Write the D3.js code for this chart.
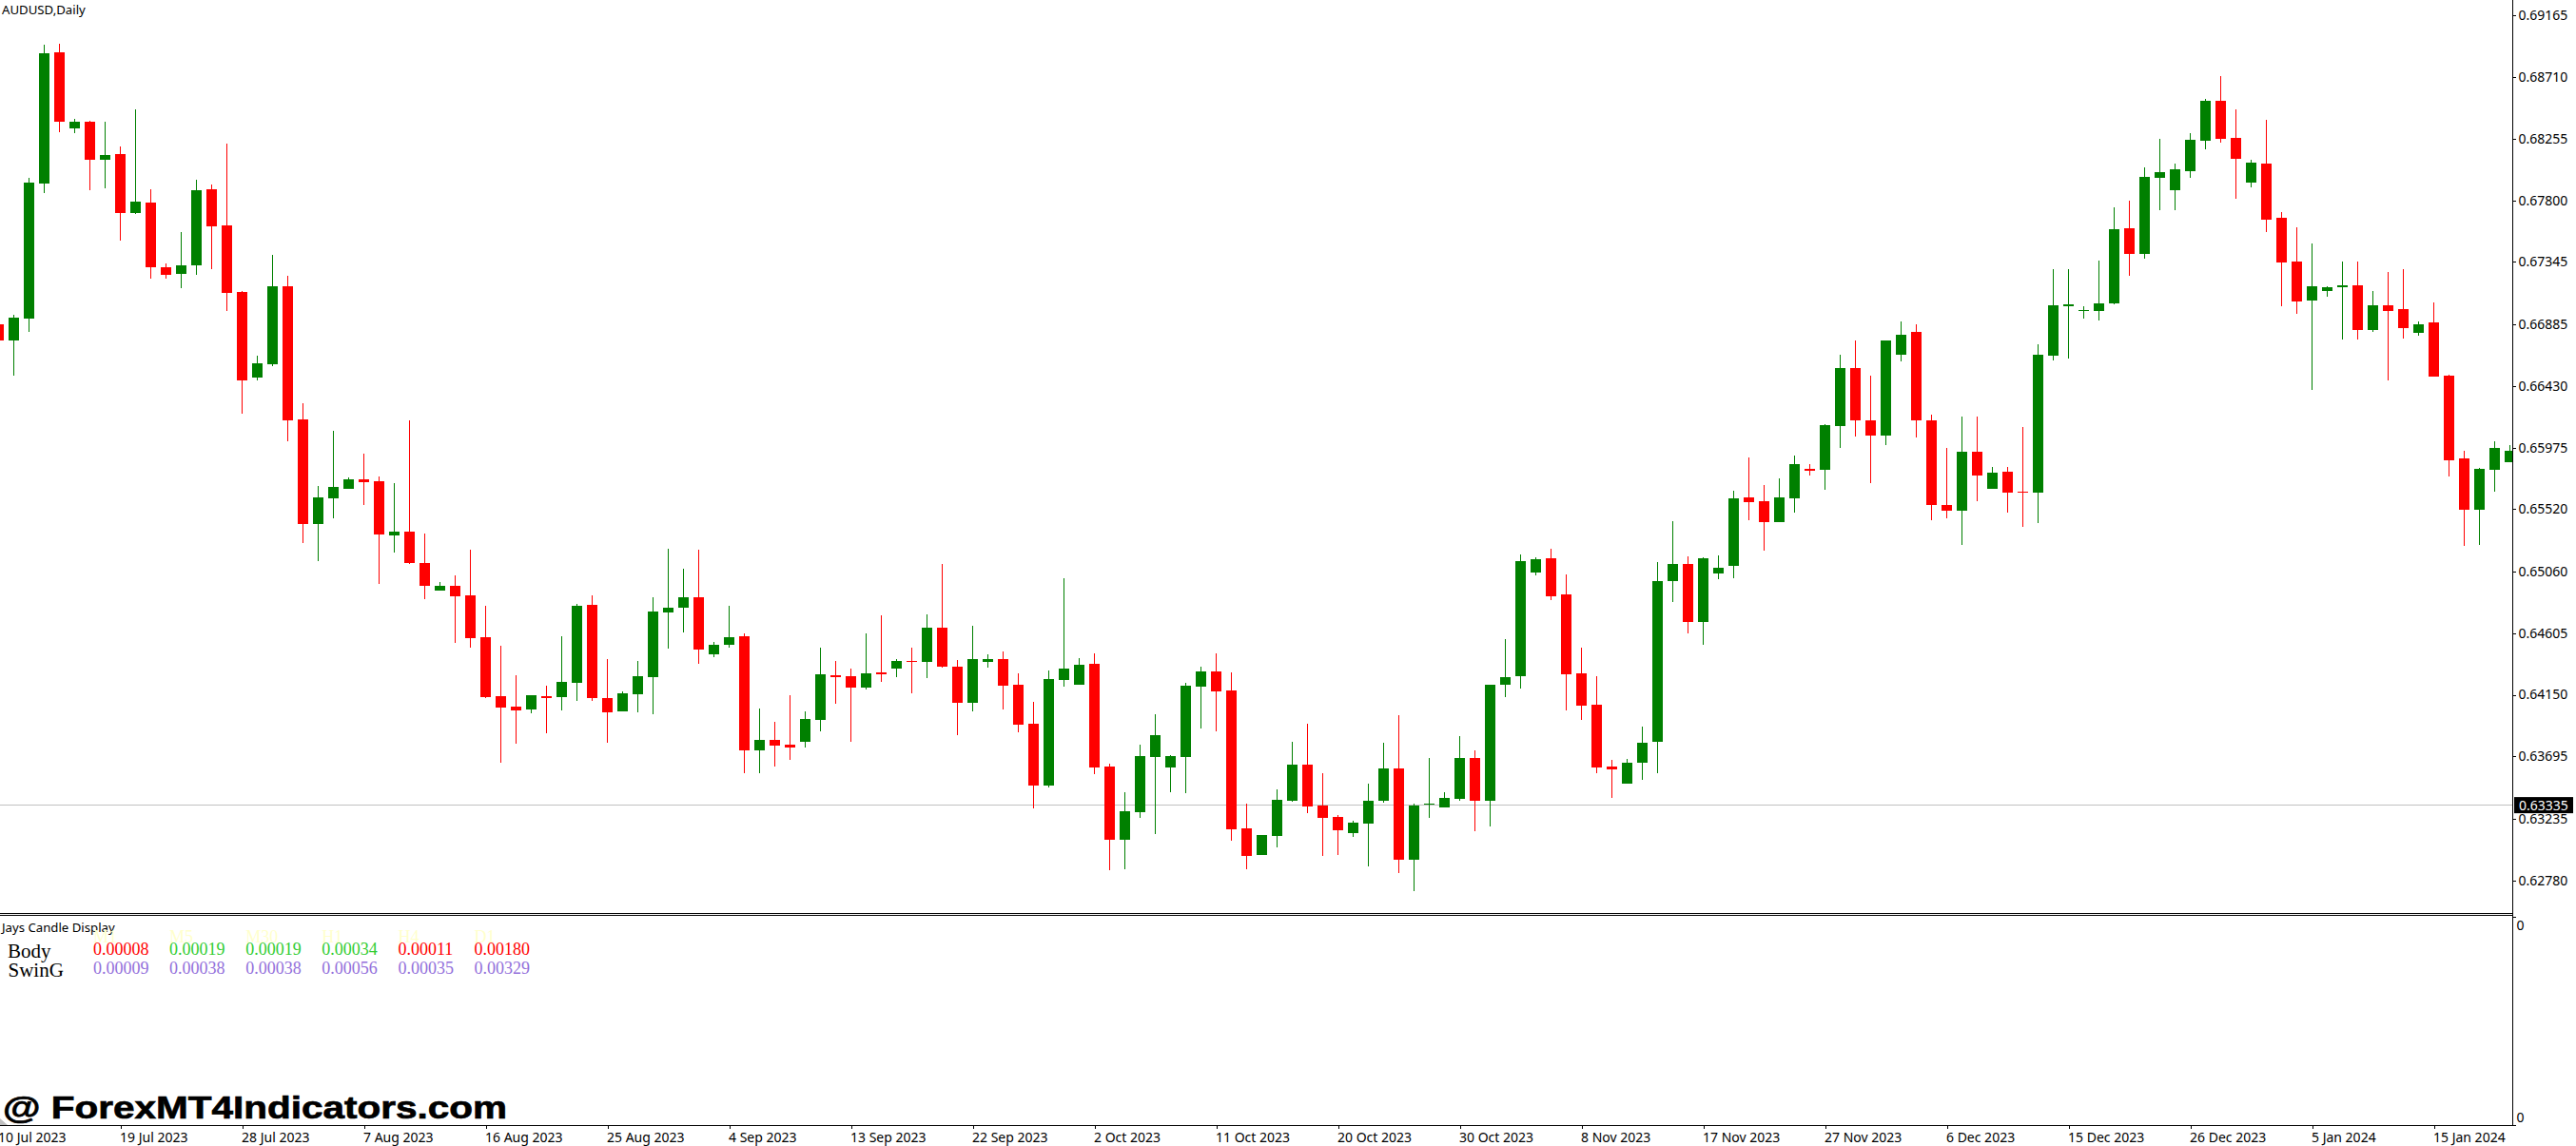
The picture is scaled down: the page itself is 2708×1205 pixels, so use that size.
<!DOCTYPE html>
<html><head><meta charset="utf-8">
<script src="https://cdn.jsdelivr.net/npm/d3@7"></script>
<style>
html,body{margin:0;padding:0;background:#fff;overflow:hidden}
svg{display:block}
.ax text{font-family:"Noto Sans",sans-serif;font-size:14px;fill:#000}
.ax line{stroke:#000;shape-rendering:crispEdges}
.ax path{display:none}
.ui{font-family:"Noto Sans",sans-serif;font-size:14px;fill:#000}
.ttl{font-family:"Noto Sans",sans-serif;font-size:13.2px;fill:#000}
.ser{font-family:"Liberation Serif",serif}
</style></head><body>
<svg id="c" width="2708" height="1205"></svg>
<script>
const symbolTitle = "AUDUSD,Daily";
const indicatorTitle = "Jays Candle Display";
const watermark = "@ ForexMT4Indicators.com";
const currentPrice = 0.63335;
const priceTicks = [0.69165,0.68710,0.68255,0.67800,0.67345,0.66885,0.66430,0.65975,0.65520,0.65060,0.64605,0.64150,0.63695,0.63235,0.62780];
const dateLabels = ["10 Jul 2023","19 Jul 2023","28 Jul 2023","7 Aug 2023","16 Aug 2023","25 Aug 2023","4 Sep 2023","13 Sep 2023","22 Sep 2023","2 Oct 2023","11 Oct 2023","20 Oct 2023","30 Oct 2023","8 Nov 2023","17 Nov 2023","27 Nov 2023","6 Dec 2023","15 Dec 2023","26 Dec 2023","5 Jan 2024","15 Jan 2024"];
const timeframes = ["M1","M5","M30","H1","H4","D1"];
const bodyValues = ["0.00008","0.00019","0.00019","0.00034","0.00011","0.00180"];
const bodyColors = ["#ff0000","#32cd32","#32cd32","#32cd32","#ff0000","#ff0000"];
const swingValues = ["0.00009","0.00038","0.00038","0.00056","0.00035","0.00329"];

const highs = [0.66884,0.66954,0.67965,0.68948,0.68955,0.68400,0.68386,0.68379,0.68197,0.68471,
0.67881,0.67333,0.67565,0.67951,0.67916,0.68218,0.67130,0.66653,0.67397,0.67242,
0.66302,0.65691,0.66098,0.65754,0.65929,0.65761,0.65712,0.66175,0.65340,0.64982,
0.65031,0.65220,0.64806,0.64511,0.64294,0.64146,0.64217,0.64582,0.64820,0.64883,
0.64413,0.64174,0.64399,0.64869,0.65227,0.65080,0.65220,0.64539,0.64806,0.64603,
0.64048,0.63950,0.64146,0.64027,0.64497,0.64399,0.64343,0.64603,0.64736,0.64413,
0.64497,0.64743,0.65115,0.64406,0.64659,0.64448,0.64469,0.64308,0.64097,0.64329,
0.65010,0.64420,0.64455,0.63641,0.63430,0.63781,0.64006,0.63704,0.64238,0.64357,
0.64455,0.64315,0.63346,0.63114,0.63451,0.63802,0.63936,0.63571,0.63262,0.63220,
0.63494,0.63795,0.63999,0.63346,0.63683,0.63430,0.63845,0.63739,0.64224,0.64561,
0.65185,0.65164,0.65227,0.65038,0.64497,0.64287,0.63669,0.63676,0.63915,0.65129,
0.65431,0.65171,0.65164,0.65178,0.65656,0.65901,0.65698,0.65747,0.65915,0.65852,
0.66147,0.66660,0.66765,0.66505,0.66765,0.66905,0.66884,0.66217,0.65972,0.66203,
0.66203,0.65831,0.65831,0.66126,0.66737,0.67291,0.67291,0.67018,0.67355,0.67748,
0.67797,0.68042,0.68253,0.68071,0.68295,0.68548,0.68716,0.68471,0.68099,0.68393,
0.67713,0.67600,0.67481,0.67165,0.67347,0.67347,0.67130,0.67270,0.67291,0.66905,
0.67046,0.66512,0.65951,0.65824,0.66021,0.65993];
const lows = [0.66765,0.66505,0.66828,0.67853,0.68302,0.68295,0.67874,0.67888,0.67502,0.67698,
0.67221,0.67221,0.67151,0.67249,0.67291,0.66982,0.66224,0.66470,0.66575,0.66021,
0.65270,0.65136,0.65452,0.65670,0.65550,0.64968,0.65199,0.65115,0.64855,0.64919,
0.64532,0.64497,0.64125,0.63648,0.63788,0.64013,0.63866,0.64034,0.64104,0.64104,
0.63795,0.64027,0.64020,0.64006,0.64490,0.64610,0.64378,0.64427,0.64497,0.63571,
0.63571,0.63620,0.63669,0.63760,0.63880,0.64083,0.63802,0.64188,0.64245,0.64280,
0.64160,0.64273,0.64350,0.63852,0.64027,0.64350,0.64041,0.63873,0.63311,0.63465,
0.64210,0.64224,0.63564,0.62855,0.62862,0.63241,0.63121,0.63430,0.63423,0.63901,
0.63880,0.63072,0.62862,0.62967,0.63023,0.63360,0.63276,0.62960,0.62967,0.63100,
0.62883,0.63353,0.62834,0.62700,0.63241,0.63318,0.63367,0.63143,0.63178,0.64132,
0.64196,0.65031,0.64848,0.64034,0.63964,0.63571,0.63388,0.63494,0.63522,0.63571,
0.64834,0.64603,0.64518,0.65003,0.65010,0.65438,0.65213,0.65424,0.65494,0.65768,
0.65663,0.65972,0.66056,0.65712,0.65993,0.66610,0.66049,0.65438,0.65452,0.65256,
0.65578,0.65670,0.65494,0.65389,0.65417,0.66617,0.66631,0.66926,0.66912,0.67032,
0.67242,0.67369,0.67727,0.67727,0.67965,0.68176,0.68225,0.67811,0.67895,0.67565,
0.67018,0.66961,0.66400,0.67088,0.66772,0.66772,0.66828,0.66470,0.66779,0.66800,
0.66498,0.65761,0.65249,0.65256,0.65649,0.65866];
const opens = [0.66884,0.66765,0.66926,0.67923,0.68892,0.68330,0.68379,0.68099,0.68141,0.67706,
0.67783,0.67305,0.67256,0.67319,0.67881,0.67614,0.67123,0.66491,0.66589,0.67165,
0.66182,0.65410,0.65600,0.65670,0.65740,0.65726,0.65326,0.65354,0.65122,0.64919,
0.64954,0.64883,0.64575,0.64139,0.64062,0.64041,0.64139,0.64132,0.64238,0.64813,
0.64125,0.64027,0.64153,0.64280,0.64757,0.64792,0.64869,0.64448,0.64518,0.64582,
0.63739,0.63816,0.63781,0.63802,0.63964,0.64294,0.64287,0.64203,0.64315,0.64343,
0.64399,0.64392,0.64645,0.64357,0.64090,0.64392,0.64413,0.64224,0.63936,0.63479,
0.64259,0.64224,0.64378,0.63620,0.63079,0.63283,0.63690,0.63613,0.63690,0.64210,
0.64322,0.64181,0.63164,0.62967,0.63107,0.63367,0.63634,0.63332,0.63248,0.63128,
0.63199,0.63367,0.63606,0.62932,0.63339,0.63318,0.63381,0.63683,0.63367,0.64224,
0.64287,0.65052,0.65157,0.64890,0.64308,0.64076,0.63620,0.63494,0.63648,0.63802,
0.64989,0.65115,0.64687,0.65045,0.65101,0.65607,0.65578,0.65424,0.65600,0.65817,
0.65810,0.66133,0.66561,0.66175,0.66063,0.66660,0.66828,0.66175,0.65550,0.65508,
0.65943,0.65670,0.65796,0.65649,0.65642,0.66653,0.67018,0.66982,0.66982,0.67039,
0.67593,0.67404,0.67965,0.67874,0.68014,0.68239,0.68534,0.68260,0.67930,0.68071,
0.67670,0.67347,0.67060,0.67130,0.67158,0.67172,0.66842,0.67025,0.66996,0.66821,
0.66898,0.66505,0.65894,0.65515,0.65810,0.65866];
const closes = [0.66765,0.66933,0.67930,0.68885,0.68379,0.68379,0.68099,0.68134,0.67706,0.67790,
0.67305,0.67249,0.67319,0.67874,0.67607,0.67116,0.66470,0.66596,0.67165,0.66175,
0.65410,0.65607,0.65684,0.65740,0.65719,0.65333,0.65354,0.65122,0.64954,0.64954,
0.64876,0.64568,0.64132,0.64055,0.64034,0.64146,0.64125,0.64245,0.64806,0.64125,
0.64020,0.64160,0.64287,0.64764,0.64792,0.64869,0.64483,0.64518,0.64575,0.63739,
0.63816,0.63774,0.63760,0.63971,0.64301,0.64280,0.64203,0.64308,0.64301,0.64399,
0.64392,0.64645,0.64357,0.64090,0.64413,0.64413,0.64217,0.63929,0.63479,0.64266,
0.64343,0.64371,0.63613,0.63079,0.63290,0.63697,0.63852,0.63697,0.64217,0.64322,
0.64174,0.63157,0.62960,0.63114,0.63374,0.63634,0.63325,0.63241,0.63150,0.63206,
0.63367,0.63606,0.62932,0.63332,0.63346,0.63388,0.63683,0.63367,0.64224,0.64280,
0.65136,0.65150,0.64876,0.64301,0.64069,0.63613,0.63599,0.63648,0.63795,0.64989,
0.65115,0.64687,0.65157,0.65087,0.65600,0.65571,0.65424,0.65607,0.65852,0.65803,
0.66140,0.66561,0.66175,0.66063,0.66765,0.66807,0.66175,0.65550,0.65508,0.65943,
0.65768,0.65789,0.65642,0.65642,0.66660,0.67025,0.67032,0.66989,0.67039,0.67586,
0.67404,0.67972,0.68007,0.68028,0.68246,0.68534,0.68253,0.68106,0.68078,0.67656,
0.67340,0.67053,0.67165,0.67158,0.67172,0.66842,0.67025,0.66982,0.66856,0.66884,
0.66498,0.65880,0.65515,0.65817,0.65972,0.65951];

const W = 2708, H = 1205, axisX = 2641.5, mainBottom = 960, subTop = 962, subBottom = 1183;
const svg = d3.select("#c");
const root = svg.append("g");
const N = closes.length;
const x = d3.scaleLinear().domain([0, N - 1]).range([-1.5, -1.5 + 16 * (N - 1)]);
const y = d3.scaleLinear().domain([0.69278, 0.62539]).range([0, mainBottom]);
const px = v => Math.round(y(v));

root.append("clipPath").attr("id","pane").append("rect").attr("x",0).attr("y",0).attr("width",axisX).attr("height",mainBottom);
const pane = root.append("g").attr("clip-path","url(#pane)");

// current price line
pane.append("line").attr("x1",0).attr("x2",axisX)
  .attr("y1",Math.floor(y(currentPrice))+0.5).attr("y2",Math.floor(y(currentPrice))+0.5)
  .attr("stroke","#c0c0c0").attr("stroke-width",1).attr("shape-rendering","crispEdges");

const idx = d3.range(N);
const color = i => closes[i] < opens[i] ? "#ff0000" : "#008000";
pane.append("g").selectAll("rect").data(idx).join("rect")
  .attr("x", i => Math.floor(x(i)))
  .attr("width",1)
  .attr("y", i => px(highs[i]))
  .attr("height", i => Math.max(1, px(lows[i]) - px(highs[i])))
  .attr("fill", color).attr("shape-rendering","crispEdges");
pane.append("g").selectAll("rect").data(idx).join("rect")
  .attr("x", i => x(i) - 5.5)
  .attr("width",11)
  .attr("y", i => px(Math.max(opens[i],closes[i])))
  .attr("height", i => Math.max(1, px(Math.min(opens[i],closes[i])) - px(Math.max(opens[i],closes[i]))))
  .attr("fill", color).attr("shape-rendering","crispEdges");

// price axis
const yAxis = d3.axisRight(y).tickValues(priceTicks).tickFormat(d3.format(".5f")).tickSize(3).tickPadding(3);
root.append("g").attr("class","ax").attr("transform",`translate(${axisX},0)`).call(yAxis);

// current price label
root.append("rect").attr("x",2643).attr("width",62).attr("y",y(currentPrice)-8.5).attr("height",17).attr("fill","#000");
root.append("text").attr("class","ui").attr("x",2648).attr("y",y(currentPrice)+5).style("fill","#fff").text(d3.format(".5f")(currentPrice));

// time axis
const tickIdx = dateLabels.map((_, k) => k * 8);
const xAxis = d3.axisBottom(x).tickValues(tickIdx).tickFormat((d, k) => dateLabels[k]).tickSize(4).tickPadding(4);
const gx = root.append("g").attr("class","ax").attr("transform",`translate(0,${subBottom})`).call(xAxis);
gx.selectAll("text").attr("text-anchor","start").attr("x",-1);

// indicator axis
const subY = d3.scaleLinear().domain([0,1]).range([subBottom-0.5, subTop+1.5]);
const gz = root.append("g").attr("class","ax").attr("transform",`translate(${axisX},0)`)
  .call(d3.axisRight(subY).tickValues([1,0]).tickFormat(() => "0").tickSize(3).tickPadding(1));
gz.selectAll("text").attr("dy",(d) => d === 1 ? "14" : "-3");

// frame lines
const frame = [[axisX,0,axisX,subBottom],[0,960.5,axisX,960.5],[0,962.5,axisX,962.5],[0,1183.5,axisX+1,1183.5]];
root.append("g").selectAll("line").data(frame).join("line")
  .attr("x1",d=>d[0]).attr("y1",d=>d[1]).attr("x2",d=>d[2]).attr("y2",d=>d[3])
  .attr("stroke","#000").attr("shape-rendering","crispEdges");

// shift marker
root.append("path").attr("d","M0,1176L8,1183L0,1183Z").attr("fill","#c0c0c0");

// titles
root.append("text").attr("class","ttl").attr("x",2).attr("y",15).text(symbolTitle);
root.append("text").attr("class","ttl").attr("x",2).attr("y",980).text(indicatorTitle);

// indicator table
const colX = d3.scaleLinear().domain([0,1]).range([98,178.1]);
const ser = root.append("g").attr("class","ser");
ser.append("text").attr("x",8).attr("y",1007).attr("font-size",21).attr("fill","#000").text("Body");
ser.append("text").attr("x",8.5).attr("y",1027).attr("font-size",21).attr("fill","#000").text("SwinG");
ser.selectAll(".h").data(timeframes).join("text").attr("class","h").attr("x",(d,k)=>colX(k)).attr("y",990.5).attr("font-size",18).attr("fill","#ffffcc").text(d=>d);
ser.selectAll(".b").data(bodyValues).join("text").attr("class","b").attr("x",(d,k)=>colX(k)).attr("y",1004).attr("font-size",18).attr("fill",(d,k)=>bodyColors[k]).text(d=>d);
ser.selectAll(".s").data(swingValues).join("text").attr("class","s").attr("x",(d,k)=>colX(k)).attr("y",1024).attr("font-size",18).attr("fill","#9370db").text(d=>d);

// watermark
root.append("text").attr("x",3).attr("y",1175.5).attr("font-family","Liberation Sans, sans-serif").attr("font-weight","bold").attr("font-size",34)
  .attr("textLength",530).attr("lengthAdjust","spacingAndGlyphs")
  .attr("fill","#000").attr("stroke","#000").attr("stroke-width",0.7).text(watermark);
</script></body></html>
